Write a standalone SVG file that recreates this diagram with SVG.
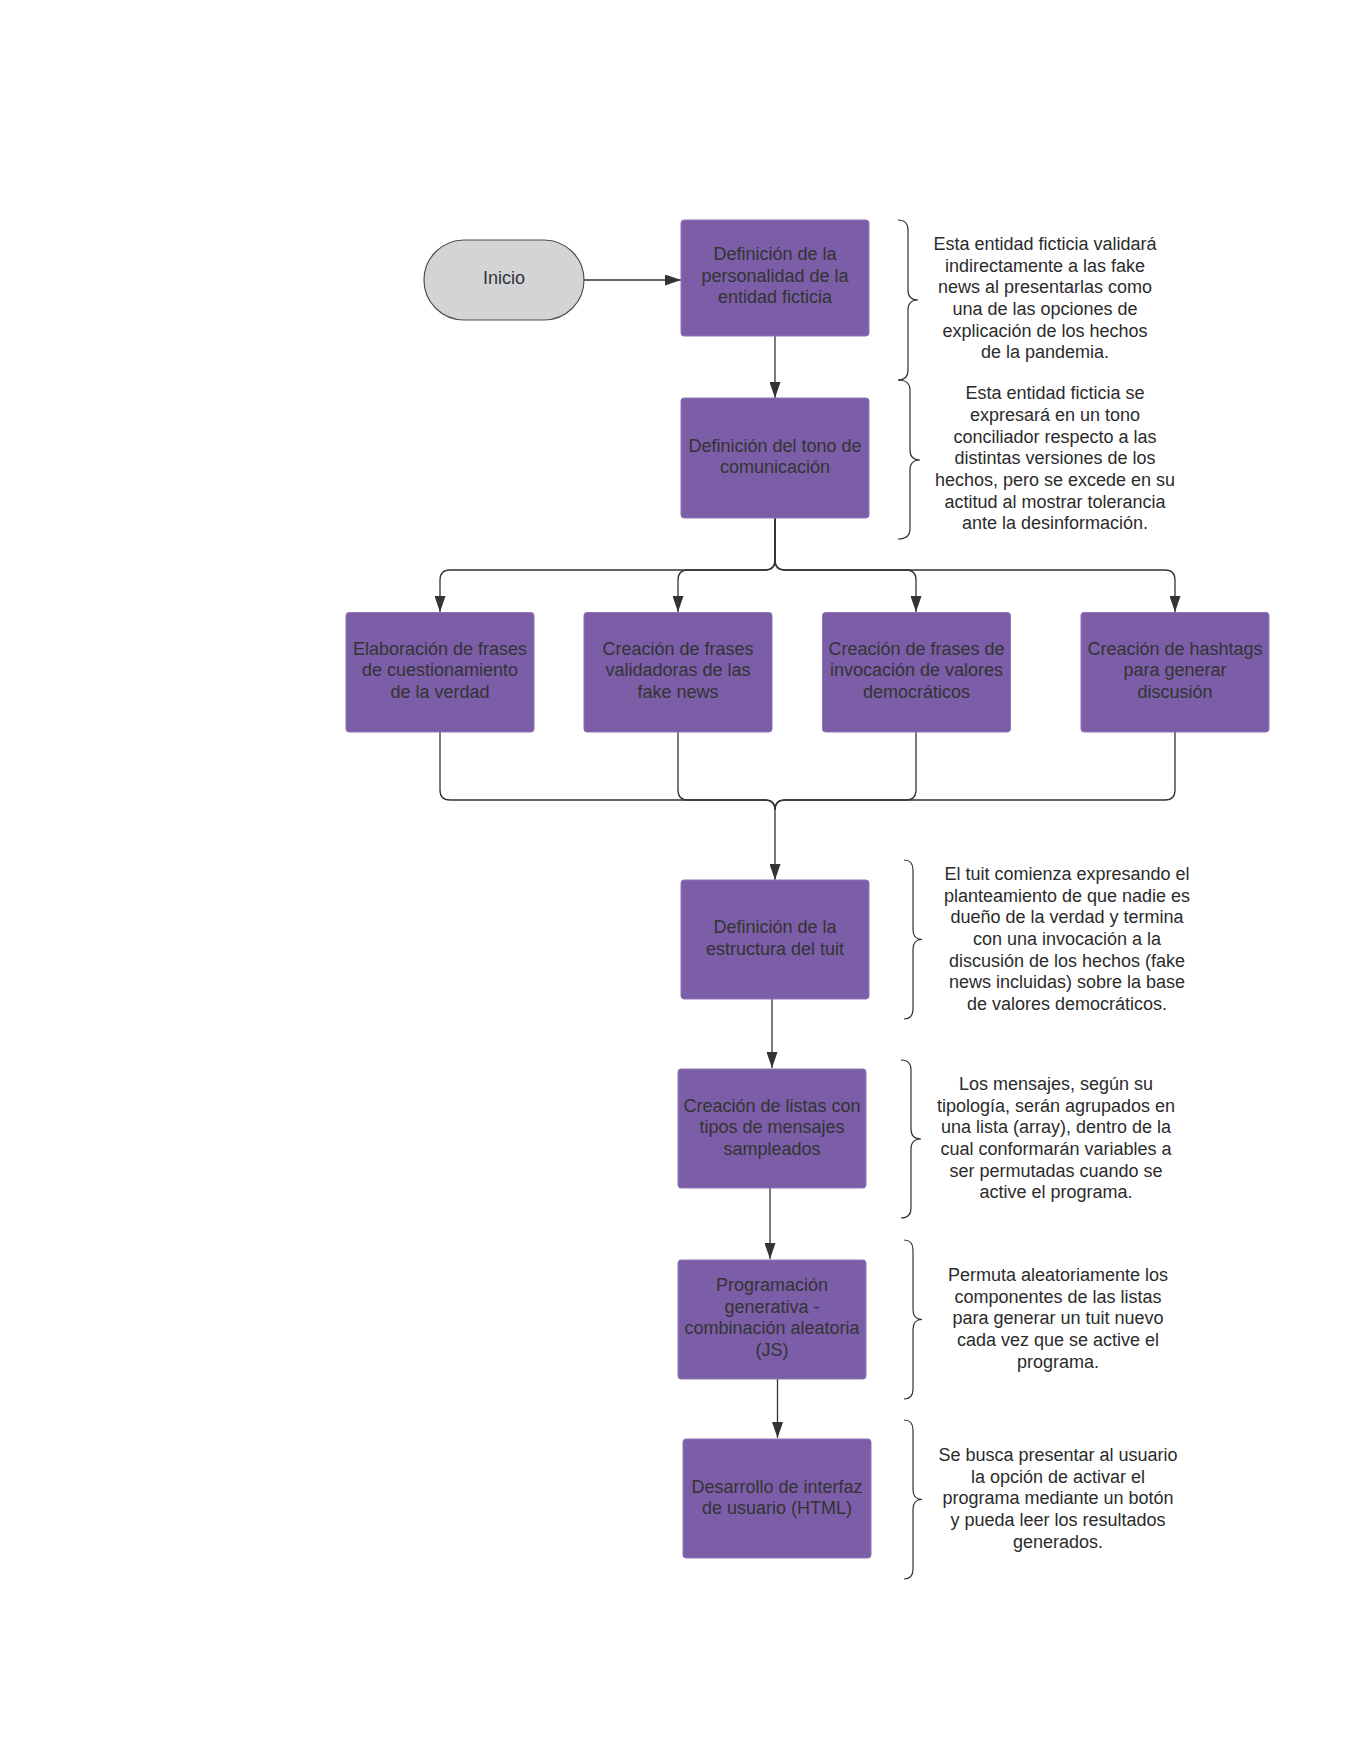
<svg xmlns="http://www.w3.org/2000/svg" width="1360" height="1760" viewBox="0 0 1360 1760">
<style>
  .box{fill:#7B5EA7;stroke:#8D74B5;stroke-width:1}
  .bt{font-family:"Liberation Sans",Arial,sans-serif;font-size:18px;fill:#333333;text-anchor:middle}
  .nt{font-family:"Liberation Sans",Arial,sans-serif;font-size:18px;fill:#2b2b2b;text-anchor:middle}
  .ln{fill:none;stroke:#333333;stroke-width:1.3}
  .br{fill:none;stroke:#333333;stroke-width:1.2}
</style>
<defs>
  <marker id="ah" markerWidth="16" markerHeight="11" refX="16" refY="5.5" orient="auto" markerUnits="userSpaceOnUse">
    <path d="M0,0 L16,5.5 L0,11 Z" fill="#333333"/>
  </marker>
</defs>
<rect width="1360" height="1760" fill="#ffffff"/>
<g transform="translate(1,0)">
<g id="connectors">
  <path class="ln" d="M583,280 L680,280" marker-end="url(#ah)"/>
  <path class="ln" d="M774,336 L774,398" marker-end="url(#ah)"/>
  <path class="ln" d="M774,518 V560 Q774,570 764,570 H449 Q439,570 439,580 V612" marker-end="url(#ah)"/>
  <path class="ln" d="M774,518 V560 Q774,570 764,570 H687 Q677,570 677,580 V612" marker-end="url(#ah)"/>
  <path class="ln" d="M774,518 V560 Q774,570 784,570 H905 Q915,570 915,580 V612" marker-end="url(#ah)"/>
  <path class="ln" d="M774,518 V560 Q774,570 784,570 H1164 Q1174,570 1174,580 V612" marker-end="url(#ah)"/>
  <path class="ln" d="M439,732 V790 Q439,800 449,800 H764 Q774,800 774,810 V880" marker-end="url(#ah)"/>
  <path class="ln" d="M677,732 V790 Q677,800 687,800 H764 Q774,800 774,810"/>
  <path class="ln" d="M915,732 V790 Q915,800 905,800 H784 Q774,800 774,810"/>
  <path class="ln" d="M1174,732 V790 Q1174,800 1164,800 H784 Q774,800 774,810"/>
  <path class="ln" d="M771,999 V1068" marker-end="url(#ah)"/>
  <path class="ln" d="M769,1188 V1259" marker-end="url(#ah)"/>
  <path class="ln" d="M776.5,1379 V1438" marker-end="url(#ah)"/>
</g>

<g id="inicio">
  <rect x="423" y="240" width="160" height="80" rx="40" ry="40" fill="#D3D4D6" stroke="#505050" stroke-width="1.2"/>
  <text class="bt" x="503" y="284">Inicio</text>
</g>

<g id="n1">
  <rect class="box" x="680" y="220" width="188" height="116" rx="3"/>
  <text class="bt" x="774" y="260">Definición de la</text>
  <text class="bt" x="774" y="281.7">personalidad de la</text>
  <text class="bt" x="774" y="303.3">entidad ficticia</text>
</g>
<g id="n2">
  <rect class="box" x="680" y="398" width="188" height="120" rx="3"/>
  <text class="bt" x="774" y="451.5">Definición del tono de</text>
  <text class="bt" x="774" y="473">comunicación</text>
</g>
<g id="nA">
  <rect class="box" x="345" y="612.5" width="188" height="119.5" rx="3"/>
  <text class="bt" x="439" y="654.5">Elaboración de frases</text>
  <text class="bt" x="439" y="676">de cuestionamiento</text>
  <text class="bt" x="439" y="697.7">de la verdad</text>
</g>
<g id="nB">
  <rect class="box" x="583" y="612.5" width="188" height="119.5" rx="3"/>
  <text class="bt" x="677" y="654.5">Creación de frases</text>
  <text class="bt" x="677" y="676">validadoras de las</text>
  <text class="bt" x="677" y="697.7">fake news</text>
</g>
<g id="nC">
  <rect class="box" x="821.5" y="612.5" width="188" height="119.5" rx="3"/>
  <text class="bt" x="915.5" y="654.5">Creación de frases de</text>
  <text class="bt" x="915.5" y="676">invocación de valores</text>
  <text class="bt" x="915.5" y="697.7">democráticos</text>
</g>
<g id="nD">
  <rect class="box" x="1080" y="612.5" width="188" height="119.5" rx="3"/>
  <text class="bt" x="1174" y="654.5">Creación de hashtags</text>
  <text class="bt" x="1174" y="676">para generar</text>
  <text class="bt" x="1174" y="697.7">discusión</text>
</g>
<g id="nE">
  <rect class="box" x="680" y="880" width="188" height="119" rx="3"/>
  <text class="bt" x="774" y="933.3">Definición de la</text>
  <text class="bt" x="774" y="955">estructura del tuit</text>
</g>
<g id="nF">
  <rect class="box" x="677" y="1069" width="188" height="119" rx="3"/>
  <text class="bt" x="771" y="1111.7">Creación de listas con</text>
  <text class="bt" x="771" y="1133.3">tipos de mensajes</text>
  <text class="bt" x="771" y="1155">sampleados</text>
</g>
<g id="nG">
  <rect class="box" x="677" y="1260" width="188" height="119" rx="3"/>
  <text class="bt" x="771" y="1291">Programación</text>
  <text class="bt" x="771" y="1312.7">generativa -</text>
  <text class="bt" x="771" y="1334.3">combinación aleatoria</text>
  <text class="bt" x="771" y="1356">(JS)</text>
</g>
<g id="nH">
  <rect class="box" x="682" y="1439" width="188" height="119" rx="3"/>
  <text class="bt" x="776" y="1492.7">Desarrollo de interfaz</text>
  <text class="bt" x="776" y="1514.3">de usuario (HTML)</text>
</g>

<g id="note1">
  <path class="br" d="M897,220 Q907,220 907,230 V290 Q907,300 917,300 Q907,300 907,310 V370 Q907,380 897,380"/>
  <text class="nt" x="1044" y="250">Esta entidad ficticia validará</text>
  <text class="nt" x="1044" y="271.7">indirectamente a las fake</text>
  <text class="nt" x="1044" y="293.3">news al presentarlas como</text>
  <text class="nt" x="1044" y="315">una de las opciones de</text>
  <text class="nt" x="1044" y="336.7">explicación de los hechos</text>
  <text class="nt" x="1044" y="358.3">de la pandemia.</text>
</g>
<g id="note2">
  <path class="br" d="M897,380 Q909,380 909,390 V450 Q909,460 919,460 Q909,460 909,470 V529 Q909,539 897,539"/>
  <text class="nt" x="1054" y="399.3">Esta entidad ficticia se</text>
  <text class="nt" x="1054" y="421">expresará en un tono</text>
  <text class="nt" x="1054" y="442.7">conciliador respecto a las</text>
  <text class="nt" x="1054" y="464.3">distintas versiones de los</text>
  <text class="nt" x="1054" y="486">hechos, pero se excede en su</text>
  <text class="nt" x="1054" y="507.7">actitud al mostrar tolerancia</text>
  <text class="nt" x="1054" y="529.3">ante la desinformación.</text>
</g>
<g id="noteE">
  <path class="br" d="M903,860 Q912,860 912,870 V929.5 Q912,939.5 921,939.5 Q912,939.5 912,949.5 V1009 Q912,1019 903,1019"/>
  <text class="nt" x="1066" y="880">El tuit comienza expresando el</text>
  <text class="nt" x="1066" y="901.7">planteamiento de que nadie es</text>
  <text class="nt" x="1066" y="923.3">dueño de la verdad y termina</text>
  <text class="nt" x="1066" y="945">con una invocación a la</text>
  <text class="nt" x="1066" y="966.7">discusión de los hechos (fake</text>
  <text class="nt" x="1066" y="988.3">news incluidas) sobre la base</text>
  <text class="nt" x="1066" y="1010">de valores democráticos.</text>
</g>
<g id="noteF">
  <path class="br" d="M900,1060 Q910,1060 910,1070 V1129 Q910,1139 920,1139 Q910,1139 910,1149 V1208 Q910,1218 900,1218"/>
  <text class="nt" x="1055" y="1090">Los mensajes, según su</text>
  <text class="nt" x="1055" y="1111.7">tipología, serán agrupados en</text>
  <text class="nt" x="1055" y="1133.3">una lista (array), dentro de la</text>
  <text class="nt" x="1055" y="1155">cual conformarán variables a</text>
  <text class="nt" x="1055" y="1176.7">ser permutadas cuando se</text>
  <text class="nt" x="1055" y="1198.3">active el programa.</text>
</g>
<g id="noteG">
  <path class="br" d="M903,1240 Q912,1240 912,1250 V1309.5 Q912,1319.5 921,1319.5 Q912,1319.5 912,1329.5 V1389 Q912,1399 903,1399"/>
  <text class="nt" x="1057" y="1281">Permuta aleatoriamente los</text>
  <text class="nt" x="1057" y="1302.7">componentes de las listas</text>
  <text class="nt" x="1057" y="1324.3">para generar un tuit nuevo</text>
  <text class="nt" x="1057" y="1346">cada vez que se active el</text>
  <text class="nt" x="1057" y="1367.7">programa.</text>
</g>
<g id="noteH">
  <path class="br" d="M903,1420 Q912,1420 912,1430 V1489.5 Q912,1499.5 921,1499.5 Q912,1499.5 912,1509.5 V1569 Q912,1579 903,1579"/>
  <text class="nt" x="1057" y="1461">Se busca presentar al usuario</text>
  <text class="nt" x="1057" y="1482.7">la opción de activar el</text>
  <text class="nt" x="1057" y="1504.3">programa mediante un botón</text>
  <text class="nt" x="1057" y="1526">y pueda leer los resultados</text>
  <text class="nt" x="1057" y="1547.7">generados.</text>
</g>
</g>
</svg>
